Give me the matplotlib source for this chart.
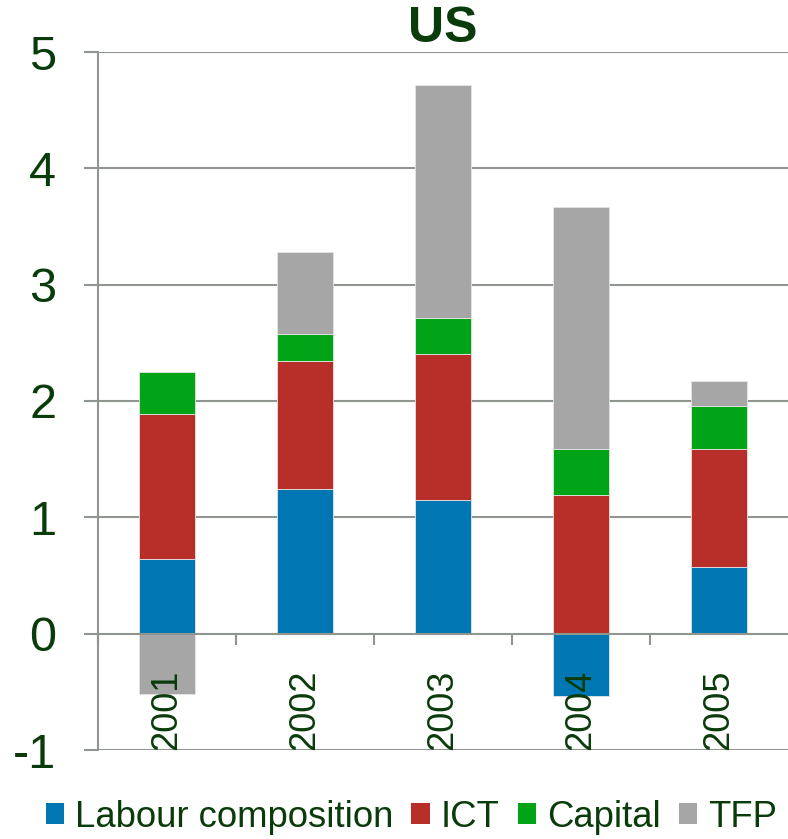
import numpy as np
import matplotlib
matplotlib.use("Agg")
import matplotlib.pyplot as plt
from matplotlib.patches import Patch

# ---- data ----
years = ["2001", "2002", "2003", "2004", "2005"]
labour = [0.64, 1.24, 1.15, -0.54, 0.57]
ict = [1.25, 1.10, 1.25, 1.19, 1.02]
capital = [0.36, 0.24, 0.31, 0.40, 0.37]
tfp = [-0.52, 0.70, 2.01, 2.08, 0.21]
series_names = ["Labour composition", "ICT", "Capital", "TFP"]
yticks = [-1, 0, 1, 2, 3, 4, 5]

colors = ["#0077b3", "#b82e29", "#00a416", "#a6a6a6"]
text_c = "#0a3b0a"
grid_c = "#8f958f"

plt.rcParams["font.family"] = ["Liberation Sans", "DejaVu Sans"]

fig = plt.figure(figsize=(7.88, 8.39), dpi=100)
ax = fig.add_axes([98 / 788, 1 - 750 / 839, 690 / 788, 698 / 839])

ax.set_xlim(-0.5, len(years) - 0.5)
ax.set_ylim(-1, 5)

for s in ["top", "right"]:
    ax.spines[s].set_visible(False)
ax.spines["bottom"].set_position(("data", 0))
ax.spines["bottom"].set_color(grid_c)
ax.spines["bottom"].set_linewidth(1.5)
ax.spines["left"].set_color(grid_c)
ax.spines["left"].set_linewidth(1.5)

# gridlines behind bars
for t in yticks:
    if t != 0:
        ax.axhline(t, color=grid_c, linewidth=1.5, zorder=0.5)

x = np.arange(len(years))
pos_bottom = np.zeros(len(years))
neg_bottom = np.zeros(len(years))
for vals, col in zip([labour, ict, capital, tfp], colors):
    v = np.array(vals, dtype=float)
    bottoms = np.where(v >= 0, pos_bottom, neg_bottom)
    ax.bar(x, v, width=0.4, bottom=bottoms, color=col, edgecolor="#e4e4e4",
           linewidth=0.6, zorder=1)
    pos_bottom = pos_bottom + np.where(v >= 0, v, 0)
    neg_bottom = neg_bottom + np.where(v < 0, v, 0)

ax.set_axisbelow(False)

ax.set_yticks(yticks)
ax.set_yticklabels([str(t) for t in yticks])
ax.tick_params(axis="y", direction="out", length=10, width=1.5, color=grid_c,
               labelsize=35, labelcolor=text_c, pad=20)

ax.set_xticks(x)
ax.set_xticklabels(years)
ax.tick_params(axis="x", which="major", length=0, labelsize=26,
               labelcolor=text_c, pad=26, labelrotation=90)
ax.set_xticks(np.arange(-0.5, len(years) - 0.5, 1.0), minor=True)
ax.tick_params(axis="x", which="minor", direction="out", length=8, width=1.5,
               color=grid_c)

ax.set_title("US", fontsize=36, fontweight="bold", color=text_c, pad=1)

handles = [Patch(facecolor=c, edgecolor="none") for c in colors]
leg = fig.legend(handles, series_names, loc="center", ncol=4,
                 bbox_to_anchor=(0.522, 0.026), frameon=False, fontsize=26.3,
                 handlelength=0.5, handleheight=0.5, handletextpad=0.3,
                 columnspacing=0.5, borderpad=0, borderaxespad=0)
for t in leg.get_texts():
    t.set_color(text_c)

fig.savefig("out.png", dpi=100)
